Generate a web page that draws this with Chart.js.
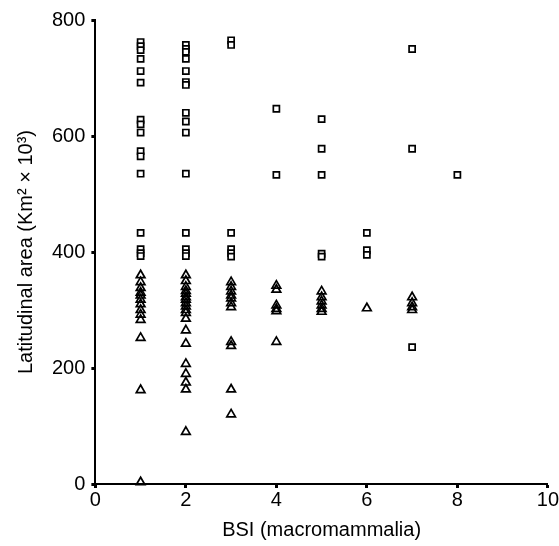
<!DOCTYPE html>
<html>
<head>
<meta charset="utf-8">
<script src="https://cdn.jsdelivr.net/npm/chart.js@4"></script>
<style>
  html, body { margin: 0; padding: 0; background: #fff; }
  #wrap { width: 559px; height: 546px; }
</style>
</head>
<body>
<div id="wrap"><canvas id="c" width="559" height="546"></canvas></div>
<script>
// BSI (macromammalia) class on x, latitudinal area on y
const bsiSquares = [
  1,1,1,1,1,1,1,1,1,1,1,1,1,1,1,1,
  2,2,2,2,2,2,2,2,2,2,2,2,2,2,2,
  3,3,3,3,3,3,
  4,4,
  5,5,5,5,5,
  6,6,6,
  7,7,7,
  8
];
const areaSquares = [
  762,755,748,733,712,692,628,620,606,574,565,535,433,405,398,393,
  757,750,745,733,712,693,640,625,606,535,433,405,398,393,688,
  765,757,433,405,398,392,
  647,533,
  629,578,533,397,392,
  433,403,395,
  750,578,236,
  533
];

const bsiTriangles = [
  1,1,1,1,1,1,1,1,1,1,1,1,1,
  2,2,2,2,2,2,2,2,2,2,2,2,2,2,2,2,2,2,2,
  3,3,3,3,3,3,3,3,3,3,3,
  4,4,4,4,4,4,
  5,5,5,5,5,5,
  6,
  7,7,7,7
];
const areaTriangles = [
  360,348,338,330,325,318,310,300,292,283,252,162,3,
  360,350,340,333,328,322,318,312,306,300,295,285,265,242,207,190,175,163,90,
  348,340,332,325,320,312,305,245,238,163,120,
  342,335,308,302,298,245,
  332,322,315,308,302,297,
  303,
  322,312,305,300
];

const xTicks = [0, 2, 4, 6, 8, 10];
const yTicks = [0, 200, 400, 600, 800];

const toPoints = (xs, ys) => xs.map((x, i) => ({ x: x, y: ys[i] }));

const font = { family: '"Liberation Sans", Arial, Helvetica, sans-serif', size: 20 };

new Chart(document.getElementById('c'), {
  type: 'scatter',
  data: {
    datasets: [
      {
        label: 'squares',
        data: toPoints(bsiSquares, areaSquares),
        pointStyle: 'rect',
        pointRadius: 4.3,
        borderColor: '#000',
        backgroundColor: '#fff',
        borderWidth: 1.7,
        clip: false
      },
      {
        label: 'triangles',
        data: toPoints(bsiTriangles, areaTriangles),
        pointStyle: 'triangle',
        pointRadius: 5,
        borderColor: '#000',
        backgroundColor: 'rgba(255,255,255,0)',
        borderWidth: 1.7,
        clip: false
      }
    ]
  },
  options: {
    responsive: false,
    animation: false,
    events: [],
    layout: { padding: { top: 20, right: 9, left: 14, bottom: 4 } },
    plugins: { legend: { display: false }, tooltip: { enabled: false } },
    scales: {
      x: {
        type: 'linear',
        min: 0, max: 10,
        afterBuildTicks: (axis) => { axis.ticks = xTicks.map(v => ({ value: v })); },
        ticks: { color: '#000', font: font, padding: 0, maxRotation: 0 },
        grid: { drawOnChartArea: false, drawTicks: true, tickLength: 4, tickWidth: 3, color: '#000' },
        border: { display: true, color: '#000', width: 2 },
        title: { display: true, text: 'BSI (macromammalia)', color: '#000', font: font, padding: { top: 6, bottom: 0 } }
      },
      y: {
        type: 'linear',
        min: 0, max: 800,
        afterBuildTicks: (axis) => { axis.ticks = yTicks.map(v => ({ value: v })); },
        ticks: { color: '#000', font: font, padding: 6 },
        grid: { drawOnChartArea: false, drawTicks: true, tickLength: 4, tickWidth: 3, color: '#000' },
        border: { display: true, color: '#000', width: 2 },
        title: { display: true, text: 'Latitudinal area (Km\u00B2 \u00D7 10\u00B3)', color: '#000', font: font, padding: { top: 0, bottom: 8 } }
      }
    }
  }
});
</script>
</body>
</html>
